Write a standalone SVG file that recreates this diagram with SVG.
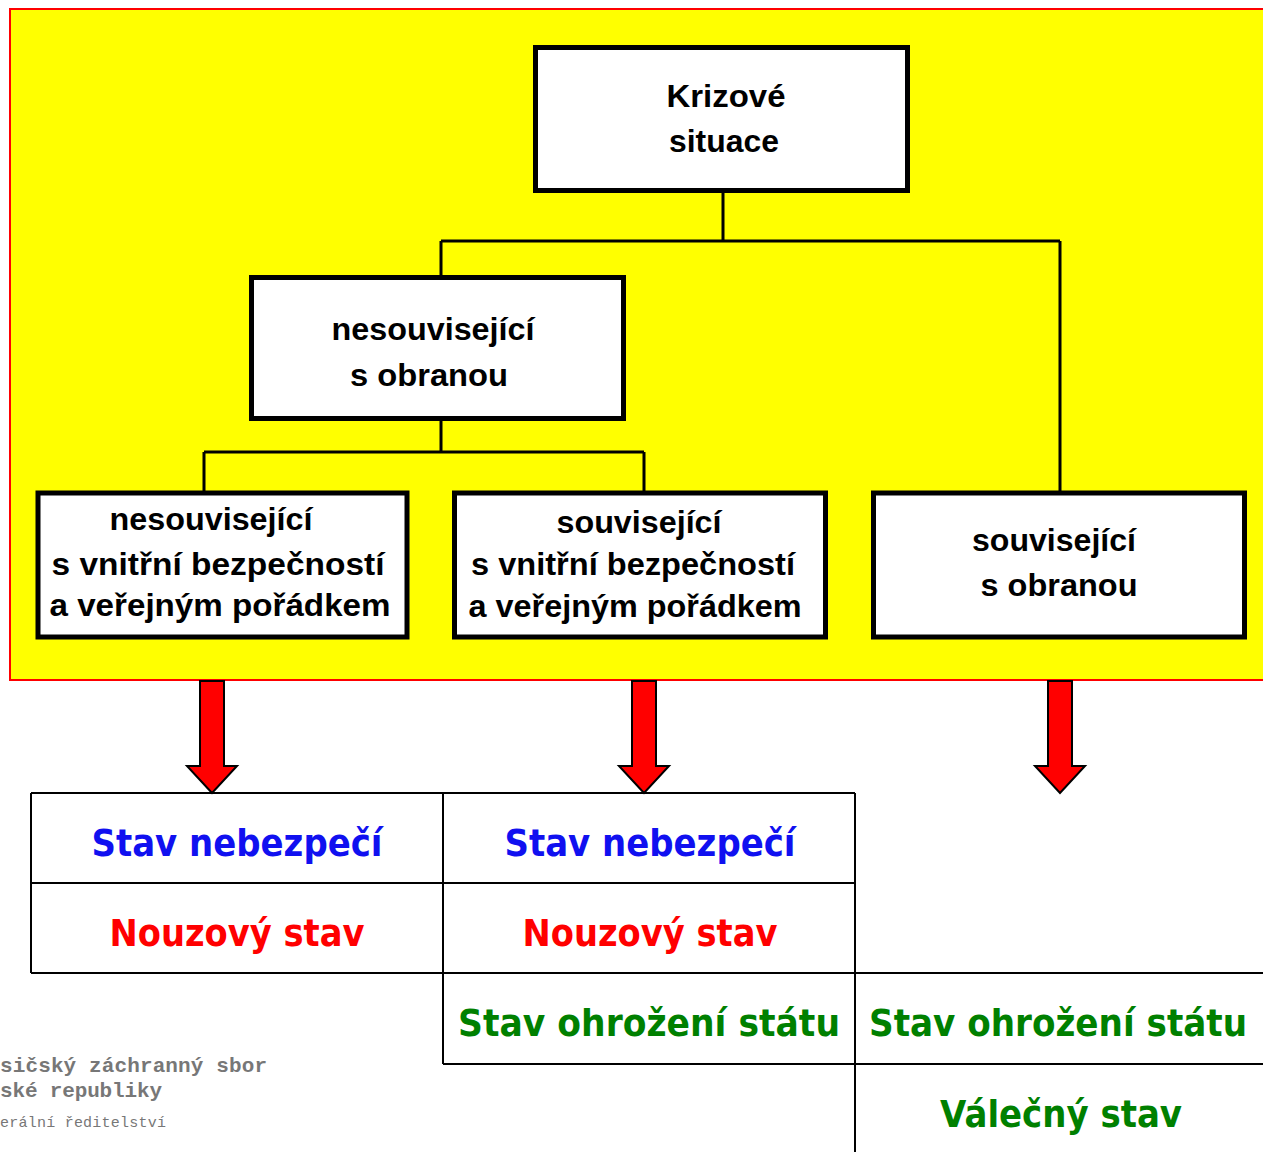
<svg xmlns="http://www.w3.org/2000/svg" width="1263" height="1152" viewBox="0 0 1263 1152">
<style>
.box{fill:#fff;stroke:#000;stroke-width:5}
.bt{font-family:"Liberation Sans",Arial,sans-serif;font-weight:bold;font-size:32px;fill:#000;text-anchor:middle}
.conn{fill:none;stroke:#000;stroke-width:3}
.arr{fill:#ff0000;stroke:#000;stroke-width:2;stroke-linejoin:miter}
.grid{fill:none;stroke:#000;stroke-width:2}
.tt{font-family:"DejaVu Sans",Verdana,sans-serif;font-weight:bold;font-size:38px;text-anchor:middle}
.blue{fill:#1010f0}.red{fill:#ff0000}.green{fill:#008000}
.wm{font-family:"Liberation Mono","Courier New",monospace;fill:#777}
</style>
<rect width="1263" height="1152" fill="#fff"/>
<rect x="10" y="9" width="1262" height="671" fill="#ffff00" stroke="#ff0000" stroke-width="2"/>
<g id="connectors">
<path class="conn" d="M723 193V241M441 241H1060M441 241V275M1060 241V491M441 421V452M204 452H644M204 452V491M644 452V491"/>
</g>
<g id="n-krizove"><rect class="box" x="535.5" y="47.5" width="372" height="143"/>
<text class="bt" x="726" y="107" textLength="119" lengthAdjust="spacingAndGlyphs">Krizové</text>
<text class="bt" x="724" y="152" textLength="110" lengthAdjust="spacingAndGlyphs">situace</text></g>
<g id="n-nesouv-obr"><rect class="box" x="251.5" y="277.5" width="372" height="141"/>
<text class="bt" x="433" y="340" textLength="203" lengthAdjust="spacingAndGlyphs">nesouvisející</text>
<text class="bt" x="429" y="386" textLength="158" lengthAdjust="spacingAndGlyphs">s obranou</text></g>
<g id="n-nesouv-vnitr"><rect class="box" x="38" y="493" width="369" height="144"/>
<text class="bt" x="211" y="530" textLength="203" lengthAdjust="spacingAndGlyphs">nesouvisející</text>
<text class="bt" x="218" y="575" textLength="333" lengthAdjust="spacingAndGlyphs">s vnitřní  bezpečností</text>
<text class="bt" x="220" y="616" textLength="341" lengthAdjust="spacingAndGlyphs">a veřejným  pořádkem</text></g>
<g id="n-souv-vnitr"><rect class="box" x="454.5" y="493" width="371" height="144"/>
<text class="bt" x="639" y="533" textLength="165" lengthAdjust="spacingAndGlyphs">související</text>
<text class="bt" x="633" y="575" textLength="324" lengthAdjust="spacingAndGlyphs">s vnitřní bezpečností</text>
<text class="bt" x="635" y="617" textLength="333" lengthAdjust="spacingAndGlyphs">a veřejným pořádkem</text></g>
<g id="n-souv-obr"><rect class="box" x="873.5" y="493" width="371" height="144"/>
<text class="bt" x="1054" y="551" textLength="164" lengthAdjust="spacingAndGlyphs">související</text>
<text class="bt" x="1059" y="596" textLength="157" lengthAdjust="spacingAndGlyphs">s obranou</text></g>
<g id="arrows">
<polygon class="arr" points="200,681 224,681 224,766 237,766 212,793 187,766 200,766"/>
<polygon class="arr" points="632,681 656,681 656,766 669,766 644,793 619,766 632,766"/>
<polygon class="arr" points="1048,681 1072,681 1072,766 1085,766 1060,793 1035,766 1048,766"/>
</g>
<g id="table">
<path class="grid" d="M31 793H855M31 883H855M31 973H1263M443 1064H1263M31 793V973M443 793V1064M855 793V1152"/>
<text class="tt blue" x="237" y="856" textLength="291" lengthAdjust="spacingAndGlyphs">Stav nebezpečí</text>
<text class="tt blue" x="650" y="856" textLength="291" lengthAdjust="spacingAndGlyphs">Stav nebezpečí</text>
<text class="tt red" x="237" y="946" textLength="255" lengthAdjust="spacingAndGlyphs">Nouzový stav</text>
<text class="tt red" x="650" y="946" textLength="255" lengthAdjust="spacingAndGlyphs">Nouzový stav</text>
<text class="tt green" x="649" y="1036" textLength="382" lengthAdjust="spacingAndGlyphs">Stav ohrožení státu</text>
<text class="tt green" x="1058" y="1036" textLength="378" lengthAdjust="spacingAndGlyphs">Stav ohrožení státu</text>
<text class="tt green" x="1061" y="1127" textLength="242" lengthAdjust="spacingAndGlyphs">Válečný stav</text>
</g>
<g id="watermark">
<text class="wm" x="0" y="1072" font-size="21" font-weight="bold" textLength="267">sičský záchranný sbor</text>
<text class="wm" x="0" y="1097" font-size="21" font-weight="bold" textLength="162">ské republiky</text>
<text class="wm" x="0" y="1127" font-size="15" textLength="166">erální ředitelství</text>
</g>
</svg>
